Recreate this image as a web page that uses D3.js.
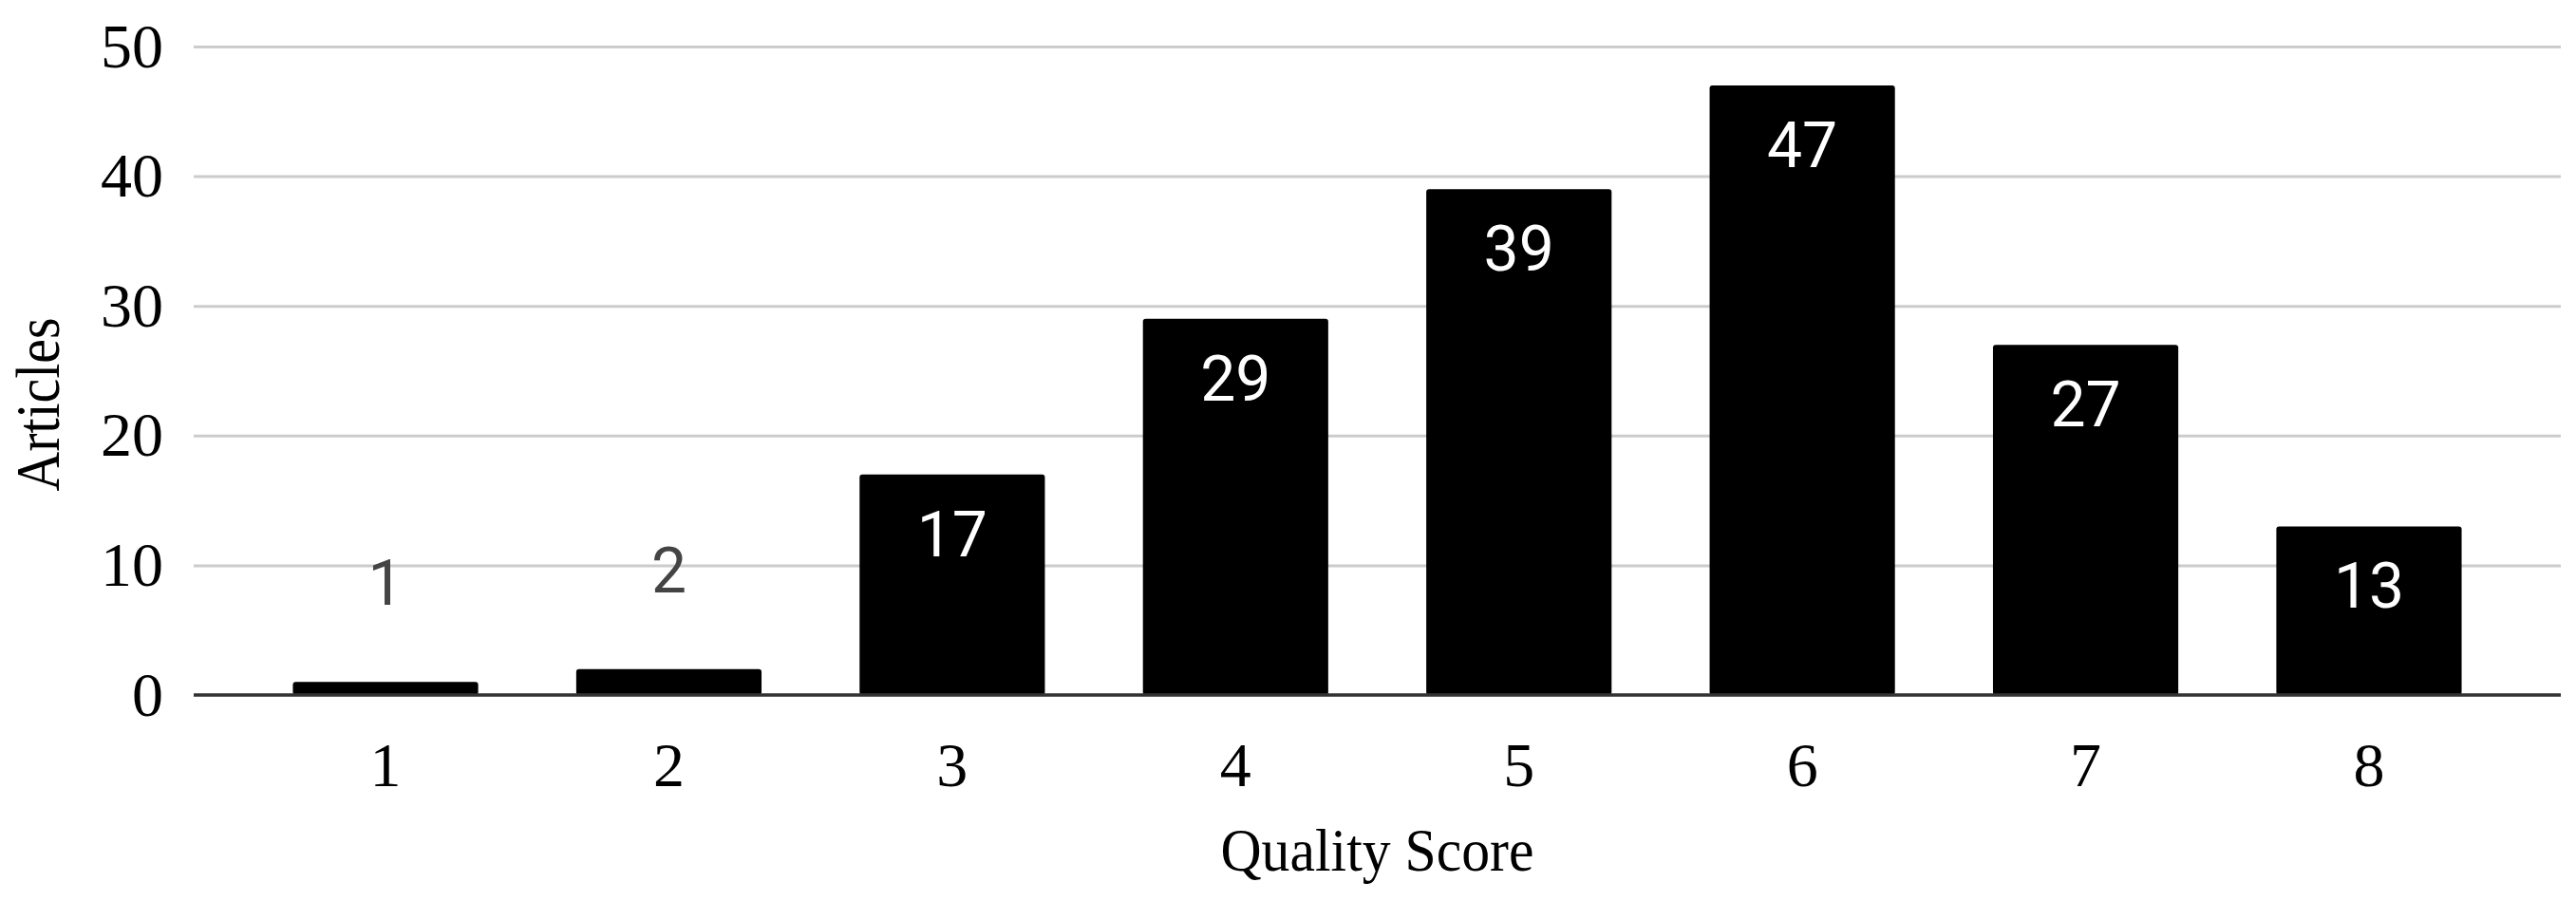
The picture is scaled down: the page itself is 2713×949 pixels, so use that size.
<!DOCTYPE html>
<html>
<head>
<meta charset="utf-8">
<script src="https://cdn.jsdelivr.net/npm/d3@7"></script>
<style>
  body { margin: 0; background: #fff; }
  svg { display: block; }
</style>
</head>
<body>
<div id="chart-area"></div>
<script>
// quality score histogram
const scores = ['1', '2', '3', '4', '5', '6', '7', '8'];
const articles = [1, 2, 17, 29, 39, 47, 27, 13];
const yTicks = [0, 10, 20, 30, 40, 50];

const width = 2713;
const height = 949;
const plotLeft = 204, plotRight = 2697, plotTop = 49, plotBottom = 732;

const svg = d3.select('#chart-area')
  .append('svg')
  .attr('width', width)
  .attr('height', height);

const x = d3.scaleBand()
  .domain(scores)
  .range([plotLeft, plotRight])
  .paddingInner(0.346)
  .paddingOuter(0.35);

const y = d3.scaleLinear().domain([0, 50]).range([plotBottom, plotTop]);

// gridlines + y labels
const yAxis = svg.append('g')
  .attr('transform', `translate(${plotLeft},0)`)
  .call(d3.axisLeft(y).tickValues(yTicks).tickSize(-(plotRight - plotLeft)).tickPadding(32));
yAxis.select('.domain').remove();
yAxis.selectAll('line').attr('stroke', '#cccccc').attr('stroke-width', 3);
yAxis.selectAll('text')
  .attr('font-family', '"Liberation Serif", serif')
  .attr('font-size', 66)
  .attr('fill', '#000');

// x labels
const xAxis = svg.append('g')
  .attr('transform', `translate(0,${plotBottom})`)
  .call(d3.axisBottom(x).tickSize(0).tickPadding(49));
xAxis.select('.domain').remove();
xAxis.selectAll('text')
  .attr('font-family', '"Liberation Serif", serif')
  .attr('font-size', 66)
  .attr('fill', '#000');

// bars
const data = scores.map((s, i) => ({ score: s, value: articles[i] }));
svg.append('g')
  .selectAll('rect')
  .data(data)
  .join('rect')
  .attr('x', (d) => x(d.score))
  .attr('y', (d) => y(d.value))
  .attr('width', x.bandwidth())
  .attr('height', (d) => y(0) - y(d.value))
  .attr('rx', 3)
  .attr('fill', '#000');

// baseline
svg.append('line')
  .attr('x1', plotLeft)
  .attr('x2', plotRight)
  .attr('y1', y(0))
  .attr('y2', y(0))
  .attr('stroke', '#333333')
  .attr('stroke-width', 3.5);

// value labels, inside the bar unless it is too short
const isInside = (d) => y(0) - y(d.value) > 100;
svg.append('g')
  .selectAll('text')
  .data(data)
  .join('text')
  .attr('x', (d) => x(d.score) + x.bandwidth() / 2)
  .attr('y', (d) => (isInside(d) ? y(d.value) + 86 : y(d.value) - 81))
  .attr('text-anchor', 'middle')
  .attr('font-family', 'Roboto, sans-serif')
  .attr('font-size', 66)
  .attr('fill', (d) => (isInside(d) ? '#ffffff' : '#444444'))
  .text((d) => d.value);

// axis titles
svg.append('text')
  .attr('x', (plotLeft + plotRight) / 2)
  .attr('y', 917)
  .attr('text-anchor', 'middle')
  .attr('font-family', '"Liberation Serif", serif')
  .attr('font-size', 64)
  .attr('textLength', 330)
  .attr('lengthAdjust', 'spacingAndGlyphs')
  .text('Quality Score');

svg.append('text')
  .attr('transform', 'translate(62,426) rotate(-90)')
  .attr('text-anchor', 'middle')
  .attr('font-family', '"Liberation Serif", serif')
  .attr('font-size', 66)
  .attr('textLength', 183)
  .attr('lengthAdjust', 'spacingAndGlyphs')
  .text('Articles');
</script>
</body>
</html>
